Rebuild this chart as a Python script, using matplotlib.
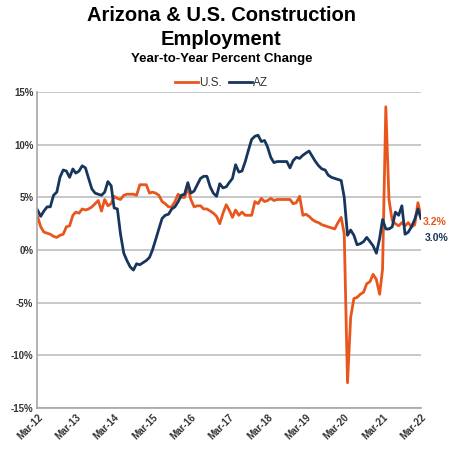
import matplotlib
matplotlib.use("Agg")
import matplotlib.pyplot as plt
import pandas as pd

# Monthly year-over-year % change, Mar-2012 .. Mar-2022
months = pd.date_range("2012-03-01", "2022-03-01", freq="MS")

us = [
    3.2, 2.2, 1.7, 1.6, 1.5, 1.3, 1.2, 1.4, 1.5, 2.2, 2.3, 3.3,
    3.6, 3.5, 3.9, 3.8, 3.9, 4.1, 4.4, 4.7, 3.7, 4.8, 4.2, 4.4,
    5.1, 4.9, 4.8, 5.2, 5.3, 5.3, 5.3, 5.2, 6.2, 6.2, 6.2, 5.4,
    5.5, 5.4, 5.2, 4.6, 4.4, 4.1, 4.1, 4.6, 5.3, 5.0, 5.0, 5.9,
    4.8, 4.1, 4.2, 4.2, 3.9, 3.9, 3.7, 3.5, 3.2, 2.5, 3.5, 4.3,
    3.8, 3.1, 3.8, 3.3, 3.6, 3.3, 3.3, 3.3, 4.6, 4.4, 4.9, 4.6,
    4.7, 4.9, 4.7, 4.8, 4.8, 4.8, 4.8, 4.8, 4.4, 4.5, 5.1, 3.3,
    3.4, 3.2, 2.9, 2.7, 2.6, 2.4, 2.3, 2.2, 2.1, 2.0, 2.6, 3.1,
    1.5, -12.6, -6.4, -4.6, -4.5, -4.2, -4.0, -3.2, -3.0, -2.3, -2.8, -4.2,
    -1.8, 13.6, 4.8, 2.8, 2.5, 2.3, 2.6, 2.3, 2.6, 2.2, 2.4, 4.5,
    3.2,
]

az = [
    3.8, 3.2, 3.7, 4.1, 4.1, 5.2, 5.5, 6.9, 7.6, 7.5, 6.9, 7.7,
    7.3, 7.5, 8.0, 7.8, 6.8, 5.8, 5.4, 5.3, 5.2, 5.5, 6.5, 6.1,
    4.0, 3.9, 1.5, -0.3, -1.0, -1.6, -1.9, -1.3, -1.4, -1.2, -1.0, -0.7,
    0.0, 1.0, 2.0, 3.0, 3.3, 3.4, 3.9, 4.1, 4.6, 5.2, 5.3, 6.4,
    5.4, 5.6, 6.2, 6.8, 7.0, 7.0, 6.0, 5.4, 5.1, 6.3, 5.9, 6.0,
    6.4, 6.8, 8.1, 7.4, 7.5, 8.4, 9.5, 10.5, 10.8, 10.9, 10.3, 10.4,
    9.8, 8.8, 8.3, 8.4, 8.4, 8.4, 8.4, 7.8, 8.5, 8.8, 8.7, 9.0,
    9.2, 9.4, 8.9, 8.4, 8.0, 7.7, 7.6, 7.1, 6.9, 6.8, 6.7, 6.6,
    5.0, 1.4, 1.9, 1.4, 0.5, 0.6, 0.8, 1.2, 0.8, 0.4, -0.3, 1.1,
    2.9, 2.0, 2.0, 2.2, 3.6, 3.3, 4.2, 1.5, 1.7, 2.2, 2.9, 3.9,
    3.0,
]

y_ticks = [-15, -10, -5, 0, 5, 10, 15]
x_ticks = pd.date_range("2012-03-01", "2022-03-01", freq="12MS")

US_COLOR = "#E8561E"
AZ_COLOR = "#17365D"

plt.rcParams["font.family"] = ["Liberation Sans", "DejaVu Sans"]

fig = plt.figure(figsize=(4.5, 4.59), dpi=100)
ax = fig.add_axes([0.0833, 0.111, 0.852, 0.6885])

ax.plot(months, us, color=US_COLOR, lw=2.0, label="U.S.")
ax.plot(months, az, color=AZ_COLOR, lw=2.0, label="AZ")

ax.set_ylim(-15, 15)
ax.set_yticks(y_ticks)
ax.set_yticklabels([f"{v}%" for v in y_ticks])
ax.set_xlim(months[0], months[-1])
ax.set_xticks(x_ticks)
ax.set_xticklabels([d.strftime("%b-%y") for d in x_ticks], rotation=45,
                   ha="right", rotation_mode="anchor")

ax.grid(axis="y", color="#BFBFBF", lw=1.2)
ax.set_axisbelow(True)
for side in ["top", "right"]:
    ax.spines[side].set_visible(False)
for side in ["left", "bottom"]:
    ax.spines[side].set_color("#A6A6A6")
    ax.spines[side].set_linewidth(1.2)
ax.tick_params(axis="both", length=0, labelsize=7, labelcolor="#333333", pad=3)
for lbl in ax.get_xticklabels() + ax.get_yticklabels():
    lbl.set_fontweight("bold")

# end-of-series labels
ax.annotate(f"{us[-1]:.1f}%", (months[-1], us[-1]), xytext=(1, -4),
            textcoords="offset points", color=US_COLOR, fontsize=7.5,
            fontweight="bold", va="center", annotation_clip=False)
ax.annotate(f"{az[-1]:.1f}%", (months[-1], az[-1]), xytext=(3, -14),
            textcoords="offset points", color=AZ_COLOR, fontsize=7.5,
            fontweight="bold", va="center", annotation_clip=False)

fig.text(0.492, 0.967, "Arizona & U.S. Construction", ha="center", va="center",
         fontsize=14.5, fontweight="bold")
fig.text(0.492, 0.915, "Employment", ha="center", va="center",
         fontsize=14.5, fontweight="bold")
fig.text(0.492, 0.871, "Year-to-Year Percent Change", ha="center", va="center",
         fontsize=9.5, fontweight="bold")

fig.legend(loc="center", bbox_to_anchor=(0.492, 0.819), ncol=2, frameon=False,
           fontsize=8.5, handlelength=2.0, handletextpad=0.05, columnspacing=0.6,
           labelcolor="#333333")

fig.savefig("out.png", dpi=100)
